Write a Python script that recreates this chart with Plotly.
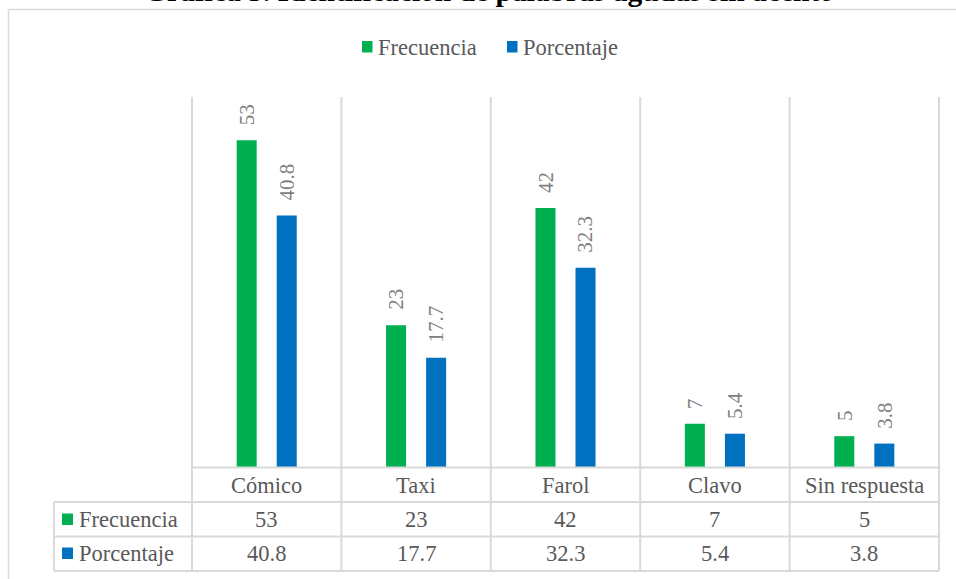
import plotly.graph_objects as go

# ---------------- data ----------------
categorias = ["Cómico", "Taxi", "Farol", "Clavo", "Sin respuesta"]
frecuencia = [53, 23, 42, 7, 5]
porcentaje = [40.8, 17.7, 32.3, 5.4, 3.8]
series_nombres = ["Frecuencia", "Porcentaje"]
titulo = "Gráfica 5. Identificación de palabras agudas sin acento"

# ---------------- layout constants ----------------
W_FIG, H_FIG = 956, 579
L, R, T, B = 192, 939, 97, 467
VERDE, AZUL = "#00B050", "#0070C0"
GRIS_LINEA = "#d9d9d9"
TEXTO = "#595959"
ETIQ = "#808080"
FONT = "Liberation Serif"
FS = 22.5


def X(px):
    return (px - L) / (R - L)


def Y(py):
    return (B - py) / (B - T)


series = [frecuencia, porcentaje]
colores = [VERDE, AZUL]

fig = go.Figure()
for nombre, vals, col in zip(series_nombres, series, colores):
    fig.add_bar(x=categorias, y=vals, name=nombre, marker_color=col,
                marker_line_width=0, showlegend=False, hoverinfo="x+y")

shapes = []


def linea(x0, y0, x1, y1, w=2):
    shapes.append(dict(type="line", xref="paper", yref="paper",
                       x0=X(x0), y0=Y(y0), x1=X(x1), y1=Y(y1),
                       line=dict(color=GRIS_LINEA, width=w)))


def cuadro(x0, y0, x1, y1, col):
    shapes.append(dict(type="rect", xref="paper", yref="paper",
                       x0=X(x0), y0=Y(y0), x1=X(x1), y1=Y(y1),
                       line=dict(width=0), fillcolor=col))


# outer chart frame (top & left visible)
linea(8.5, 9.5, 956, 9.5, 1.5)
linea(8.5, 9.5, 8.5, 579, 1.5)

# category boundaries (grid + table columns)
n = len(categorias)
for i in range(n + 1):
    px = L + i * (R - L) / n
    linea(px, T, px, 571)

# table horizontal lines
linea(L, 467.5, R, 467.5)
for py in (502, 536.5, 571):
    linea(54, py, R, py)
linea(54, 502, 54, 571)

ann = []

# title (partially clipped at the top as in the reference)
ann.append(dict(text="<b>" + titulo + "</b>", xref="paper", yref="paper",
                x=X(489), y=Y(9), xanchor="center", yanchor="bottom",
                showarrow=False, font=dict(family=FONT, size=29.5, color="#000000")))

# top legend
leg_x = [362, 507]
for nombre, col, lx in zip(series_nombres, colores, leg_x):
    cuadro(lx, 41, lx + 10.5, 52.5, col)
    ann.append(dict(text=nombre, xref="paper", yref="paper", x=X(lx + 14), y=Y(47),
                    xanchor="left", yanchor="middle", showarrow=False,
                    font=dict(family=FONT, size=FS, color=TEXTO)))

# data labels (rotated) above bars
offsets = [-20, 20]
for vals, off in zip(series, offsets):
    for c, v in zip(categorias, vals):
        ann.append(dict(text=str(v), xref="x", yref="y", x=c, y=v,
                        xshift=off, yshift=13, textangle=-90,
                        xanchor="center", yanchor="bottom", showarrow=False,
                        font=dict(family=FONT, size=21, color=ETIQ)))

# table: category row
for c in categorias:
    ann.append(dict(text=c, xref="x", yref="paper", x=c, y=Y(485),
                    xanchor="center", yanchor="middle", showarrow=False,
                    font=dict(family=FONT, size=FS, color=TEXTO)))

# table: value rows
row_y = [519.5, 553.5]
for nombre, vals, col, ry in zip(series_nombres, series, colores, row_y):
    cuadro(62, ry - 6, 73, ry + 5.5, col)
    ann.append(dict(text=nombre, xref="paper", yref="paper", x=X(77), y=Y(ry),
                    xanchor="left", yanchor="middle", showarrow=False,
                    font=dict(family=FONT, size=FS, color=TEXTO)))
    for c, v in zip(categorias, vals):
        ann.append(dict(text=str(v), xref="x", yref="paper", x=c, y=Y(ry),
                        xanchor="center", yanchor="middle", showarrow=False,
                        font=dict(family=FONT, size=FS, color=TEXTO)))

fig.update_layout(
    width=W_FIG, height=H_FIG, autosize=False,
    margin=dict(l=L, r=W_FIG - R, t=T, b=H_FIG - B, pad=0),
    paper_bgcolor="white", plot_bgcolor="white",
    barmode="group", bargap=0.464, bargroupgap=0.5,
    showlegend=False,
    font=dict(family=FONT, color=TEXTO),
    xaxis=dict(range=[-0.5, n - 0.5], showticklabels=False, showgrid=False,
               zeroline=False, ticks="", showline=False, fixedrange=True),
    yaxis=dict(range=[0, 60], visible=False, fixedrange=True),
    shapes=shapes, annotations=ann,
)

fig.write_html(
    "out.html",
    config={"displayModeBar": False},
    post_script="document.body.style.margin='0';document.body.style.overflow='hidden';",
)
